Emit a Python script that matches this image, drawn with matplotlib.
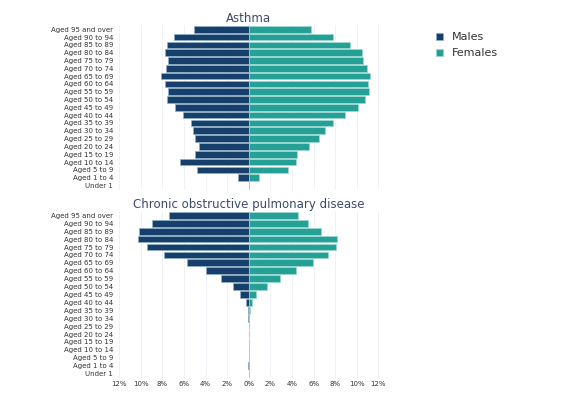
import numpy as np
import matplotlib.pyplot as plt

ages = ['Under 1', 'Aged 1 to 4', 'Aged 5 to 9', 'Aged 10 to 14', 'Aged 15 to 19', 'Aged 20 to 24',
        'Aged 25 to 29', 'Aged 30 to 34', 'Aged 35 to 39', 'Aged 40 to 44', 'Aged 45 to 49',
        'Aged 50 to 54', 'Aged 55 to 59', 'Aged 60 to 64', 'Aged 65 to 69', 'Aged 70 to 74',
        'Aged 75 to 79', 'Aged 80 to 84', 'Aged 85 to 89', 'Aged 90 to 94', 'Aged 95 and over']

# values listed from Under 1 up to 95 and over
asthma_males = [0, 1.0, 4.8, 6.4, 5.0, 4.6, 5.0, 5.2, 5.4, 6.1, 6.8, 7.6, 7.5, 7.8, 8.1, 7.7, 7.5, 7.8, 7.6, 6.9, 5.1]
asthma_females = [0, 0.9, 3.6, 4.4, 4.5, 5.6, 6.5, 7.1, 7.8, 8.9, 10.1, 10.8, 11.1, 11.0, 11.2, 10.9, 10.6, 10.5, 9.4, 7.8, 5.8]
copd_males = [0, 0.03, 0, 0, 0, 0, 0, 0.06, 0.1, 0.3, 0.8, 1.5, 2.6, 4.0, 5.7, 7.9, 9.4, 10.3, 10.2, 9.0, 7.4]
copd_females = [0, 0, 0, 0, 0, 0, 0, 0.02, 0.1, 0.3, 0.7, 1.7, 2.9, 4.4, 5.9, 7.3, 8.1, 8.2, 6.7, 5.5, 4.6]

ticks = [-12, -10, -8, -6, -4, -2, 0, 2, 4, 6, 8, 10, 12]
male_col = '#173f6b'
female_col = '#25a096'
title_col = '#3b4a6b'

fig = plt.figure(figsize=(5.8, 4.09), dpi=100)
ax1 = fig.add_axes([0.2, 0.535, 0.458, 0.405])
ax2 = fig.add_axes([0.2, 0.075, 0.458, 0.41])

y = np.arange(len(ages))
for ax, m, f, title in [(ax1, asthma_males, asthma_females, 'Asthma'),
                        (ax2, copd_males, copd_females, 'Chronic obstructive pulmonary disease')]:
    ax.barh(y, [-v for v in m], height=0.85, color=male_col, edgecolor='#8fb0c8', linewidth=0.5, label='Males')
    ax.barh(y, f, height=0.85, color=female_col, edgecolor='#9fd8d0', linewidth=0.5, label='Females')
    ax.set_xlim(-12.3, 12.3)
    ax.set_ylim(-0.6, len(ages) - 0.4)
    ax.set_yticks(y)
    ax.set_yticklabels(ages, fontsize=5, color='#333333')
    ax.set_xticks(ticks)
    ax.grid(axis='x', color='#eef1f6', linewidth=0.7)
    ax.set_axisbelow(True)
    for s in ax.spines.values():
        s.set_visible(False)
    ax.tick_params(length=0, pad=2)
    ax.set_title(title, fontsize=8.5, color=title_col, pad=1)

ax1.set_xticklabels([])
ax2.set_xticklabels([f'{abs(t)}%' for t in ticks], fontsize=5, color='#333333')

handles, labels = ax1.get_legend_handles_labels()
fig.legend(handles, labels, loc='upper left', bbox_to_anchor=(0.735, 0.945), frameon=False,
           fontsize=8, handlelength=0.6, handleheight=0.6, labelcolor='#333333')

fig.savefig('out.png', dpi=100)
